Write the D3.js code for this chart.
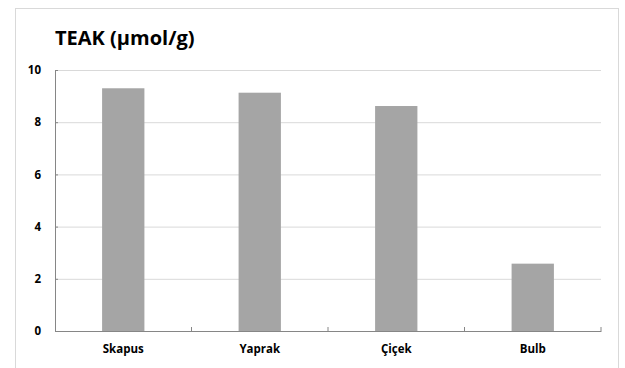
<!DOCTYPE html>
<html lang="tr">
  <head>
    <meta charset="UTF-8" />
    <title>TEAK (µmol/g)</title>
    <script src="https://d3js.org/d3.v7.min.js"></script>
    <style>
      body {
        margin: 0;
        background: #fff;
        font-family: "Open Sans", sans-serif;
      }
      .tick text {
        font-family: "Open Sans", sans-serif;
        font-weight: bold;
        font-size: 11.5px;
        fill: #000;
      }
      .gridlines line {
        stroke: #d9d9d9;
      }
      .gridlines .domain {
        stroke: none;
      }
    </style>
  </head>
  <body>
    <svg width="625" height="368" id="chart"></svg>
    <script>
      // values
      const categories = ["Skapus", "Yaprak", "Çiçek", "Bulb"];
      const values = [9.3, 9.13, 8.62, 2.58];
      const yTicks = [0, 2, 4, 6, 8, 10];

      const svg = d3.select("#chart");
      const margins = { top: 70, right: 24, bottom: 37, left: 55 };
      const width = +svg.attr("width");
      const height = +svg.attr("height");
      const chartWidth = width - margins.left - margins.right;
      const chartHeight = height - margins.top - margins.bottom;

      // chart border
      svg
        .append("rect")
        .attr("x", 15.5)
        .attr("y", 8.5)
        .attr("width", 603)
        .attr("height", 380)
        .attr("fill", "none")
        .attr("stroke", "#d9d9d9");

      const chartArea = svg
        .append("g")
        .attr("transform", `translate(${margins.left},${margins.top})`);

      const xScale = d3
        .scaleBand()
        .domain(categories)
        .range([0, chartWidth])
        .paddingInner(0.69)
        .paddingOuter(0.345);

      const yScale = d3.scaleLinear().domain([0, 10]).range([chartHeight, 0]);

      // gridlines
      chartArea
        .append("g")
        .attr("class", "gridlines")
        .call(d3.axisLeft(yScale).tickValues(yTicks).tickSize(-chartWidth).tickFormat(""));

      // bars
      chartArea
        .selectAll(".bar")
        .data(values)
        .join("rect")
        .attr("class", "bar")
        .attr("x", (d, i) => xScale(categories[i]))
        .attr("y", (d) => yScale(d))
        .attr("width", xScale.bandwidth())
        .attr("height", (d) => chartHeight - yScale(d))
        .attr("fill", "#a5a5a5");

      // y axis
      const yAxis = chartArea
        .append("g")
        .call(d3.axisLeft(yScale).tickValues(yTicks).tickSize(-3).tickPadding(14).tickSizeOuter(0));
      yAxis.selectAll("line").attr("stroke", "#868686");
      yAxis.select(".domain").attr("stroke", "#868686");

      // x axis: ticks between categories, pointing inward
      const step = chartWidth / categories.length;
      const xAxis = chartArea
        .append("g")
        .attr("transform", `translate(0,${chartHeight})`)
        .call(d3.axisBottom(xScale).tickSize(0).tickPadding(14));
      xAxis.select(".domain").attr("stroke", "#868686");
      xAxis
        .selectAll(".sep")
        .data(d3.range(1, categories.length + 1))
        .join("line")
        .attr("class", "sep")
        .attr("x1", (d) => d * step)
        .attr("x2", (d) => d * step)
        .attr("y1", 0)
        .attr("y2", -4)
        .attr("stroke", "#868686");

      // title
      svg
        .append("text")
        .attr("x", 55)
        .attr("y", 45)
        .attr("font-size", 20)
        .attr("font-weight", "bold")
        .attr("fill", "#000")
        .text("TEAK (µmol/g)");
    </script>
  </body>
</html>
